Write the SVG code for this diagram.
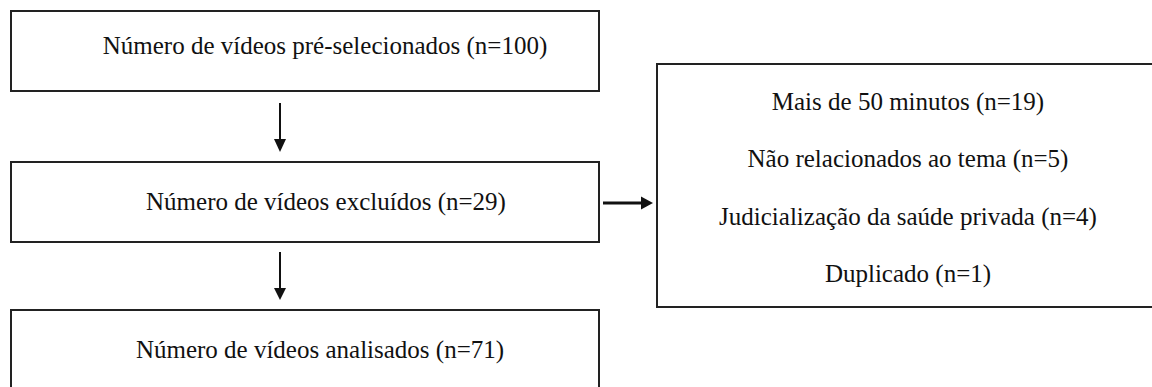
<svg xmlns="http://www.w3.org/2000/svg" width="1152" height="387" viewBox="0 0 1152 387">
<style>
.box{fill:#fff;stroke:#222;stroke-width:2}
.t{font-family:'Liberation Serif','DejaVu Serif','Noto Serif',serif;font-size:25px;fill:#111;text-anchor:middle}
.c{stroke:#111;fill:none}
.h{fill:#111;stroke:none}
</style>
<rect width="1152" height="387" fill="#fff"/>
<g id="node-preselecionados">
<rect class="box" x="11" y="11" width="588" height="80"/>
<text class="t" x="325" y="54" font-family="Liberation Serif, DejaVu Serif, serif">Número de vídeos pré-selecionados (n=100)</text>
</g>
<g id="node-excluidos">
<rect class="box" x="11" y="162" width="588" height="80"/>
<text class="t" x="326" y="210" font-family="Liberation Serif, DejaVu Serif, serif">Número de vídeos excluídos (n=29)</text>
</g>
<g id="node-analisados">
<rect class="box" x="11" y="310" width="588" height="90"/>
<text class="t" x="320" y="358" font-family="Liberation Serif, DejaVu Serif, serif">Número de vídeos analisados (n=71)</text>
</g>
<g id="node-motivos">
<rect class="box" x="657" y="64" width="502" height="243"/>
<text class="t" x="908" y="110" font-family="Liberation Serif, DejaVu Serif, serif">Mais de 50 minutos (n=19)</text>
<text class="t" x="908" y="167" font-family="Liberation Serif, DejaVu Serif, serif">Não relacionados ao tema (n=5)</text>
<text class="t" x="908" y="225" font-family="Liberation Serif, DejaVu Serif, serif">Judicialização da saúde privada (n=4)</text>
<text class="t" x="908" y="282" font-family="Liberation Serif, DejaVu Serif, serif">Duplicado (n=1)</text>
</g>
<g id="connectors">
<line class="c" x1="280" y1="103" x2="280" y2="140" stroke-width="2"/>
<polygon class="h" points="274,139 286,139 280,152"/>
<line class="c" x1="280" y1="252" x2="280" y2="289" stroke-width="2"/>
<polygon class="h" points="274,288 286,288 280,300"/>
<line class="c" x1="603" y1="203" x2="642" y2="203" stroke-width="3"/>
<polygon class="h" points="641,196.5 641,209.5 653,203"/>
</g>
</svg>
